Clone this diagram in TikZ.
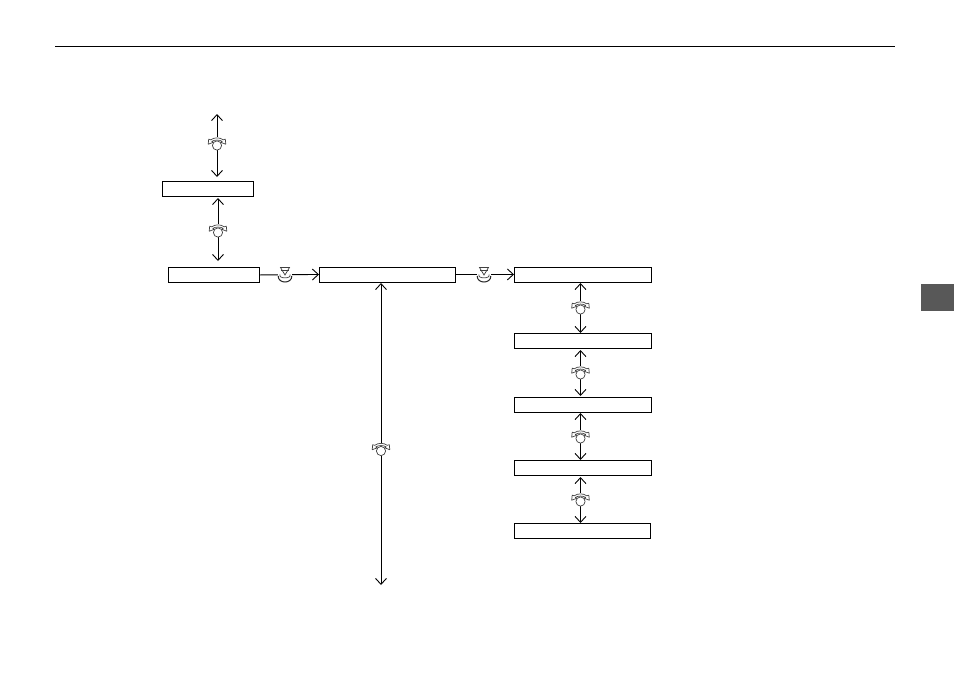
\documentclass[tikz,border=0pt]{standalone}
\usetikzlibrary{arrows.meta,positioning}
\definecolor{tabgray}{RGB}{88,88,88}
\tikzset{
  x=1pt,y=-1pt,
  menubox/.style={draw=black,line width=0.9pt,fill=white,minimum height=15pt,inner sep=0pt,anchor=north west},
  link/.style={draw=black,line width=0.9pt,-{Straight Barb[length=6pt,width=11pt,line width=0.9pt]}},
  both/.style={draw=black,line width=0.9pt,{Straight Barb[length=6pt,width=11pt,line width=0.9pt]}-{Straight Barb[length=6pt,width=11pt,line width=0.9pt]}},
  dial/.pic={
    \fill[white] (-9,-6) rectangle (9,7.2);
    \draw[line width=0.7pt,black!75,fill=white] (0,2.5) circle (4.6);
    % two-way band over the dial, closed into small heads at each end
    \draw[line width=0.7pt,black!75,line join=round]
      (-6.2,-3.2) .. controls (-3,-5.8) and (3,-5.8) .. (6.2,-3.2)
      -- (8.3,-3.8) -- (8.8,1.2) -- (3.9,-0.6) -- (5.2,-1.6)
      .. controls (2.5,-3.4) and (-2.5,-3.4) .. (-5.2,-1.6)
      -- (-3.9,-0.6) -- (-8.8,1.2) -- (-8.3,-3.8) -- cycle;
  },
  press/.pic={
    \fill[white] (-6.6,-8) rectangle (6.6,9);
    \draw[line width=0.7pt,black!75] (-4.5,-7) -- (4.5,-7) -- (0,0.5) -- cycle;
    \draw[line width=0.7pt,black!75] (-4,-4.2) -- (4,-4.2);
    \draw[line width=0.7pt,black!75] (-5,0) .. controls (-7,4.5) and (7,4.5) .. (5,0);
    \draw[line width=1pt,black!85] (-6.8,1.5) .. controls (-7,9.5) and (7,9.5) .. (6.8,1.5);
  },
}
\begin{document}
\begin{tikzpicture}
\useasboundingbox (0,0) rectangle (954,673);
% page furniture
\coordinate (ruleL) at (55,46.5);
\coordinate (ruleR) at (895,46.5);
\draw[line width=0.9pt] (ruleL) -- (ruleR);
\fill[tabgray] (921,284) rectangle (954,311);
% boxes
\node[menubox,minimum width=91pt] (a) at (162,181) {};
\node[menubox,minimum width=91pt] (b) at (168,267) {};
\node[menubox,minimum width=136pt] (c) at (319,266.5) {};
\node[menubox,minimum width=137pt] (d) at (514,266.5) {};
\node[menubox,minimum width=137pt] (e) at (514,333) {};
\node[menubox,minimum width=137pt] (f) at (514,397) {};
\node[menubox,minimum width=137pt] (g) at (514,460) {};
\node[menubox,minimum width=136pt] (h) at (514,523) {};
% free ends
\coordinate (top) at (217,114);
\coordinate (topb) at (217,177);
\coordinate (atop) at (218,198);
\coordinate (abot) at (218,261);
\coordinate (ctop) at (381,283);
\coordinate (cbot) at (381,585);
\coordinate (dtop) at (580.5,283);
\coordinate (dbot) at (580.5,333);
\coordinate (etop) at (580.5,350);
\coordinate (ebot) at (580.5,396);
\coordinate (ftop) at (580.5,413);
\coordinate (fbot) at (580.5,460);
\coordinate (gtop) at (580.5,477);
\coordinate (gbot) at (580.5,523);
% connectors
\draw[both] (top) -- (topb);
\draw[both] (atop) -- (abot);
\draw[both] (ctop) -- (cbot);
\draw[both] (dtop) -- (dbot);
\draw[both] (etop) -- (ebot);
\draw[both] (ftop) -- (fbot);
\draw[both] (gtop) -- (gbot);
\draw[link] (b.east) -- (c.west);
\draw[link] (c.east) -- (d.west);
% controls
\pic at (217,143) {dial};
\pic at (218,230) {dial};
\pic at (381,448.5) {dial};
\pic at (580.5,307) {dial};
\pic at (580.5,372) {dial};
\pic at (580.5,436) {dial};
\pic at (580.5,499) {dial};
\pic at (285,274.5) {press};
\pic at (484,274.5) {press};
\end{tikzpicture}
\end{document}
